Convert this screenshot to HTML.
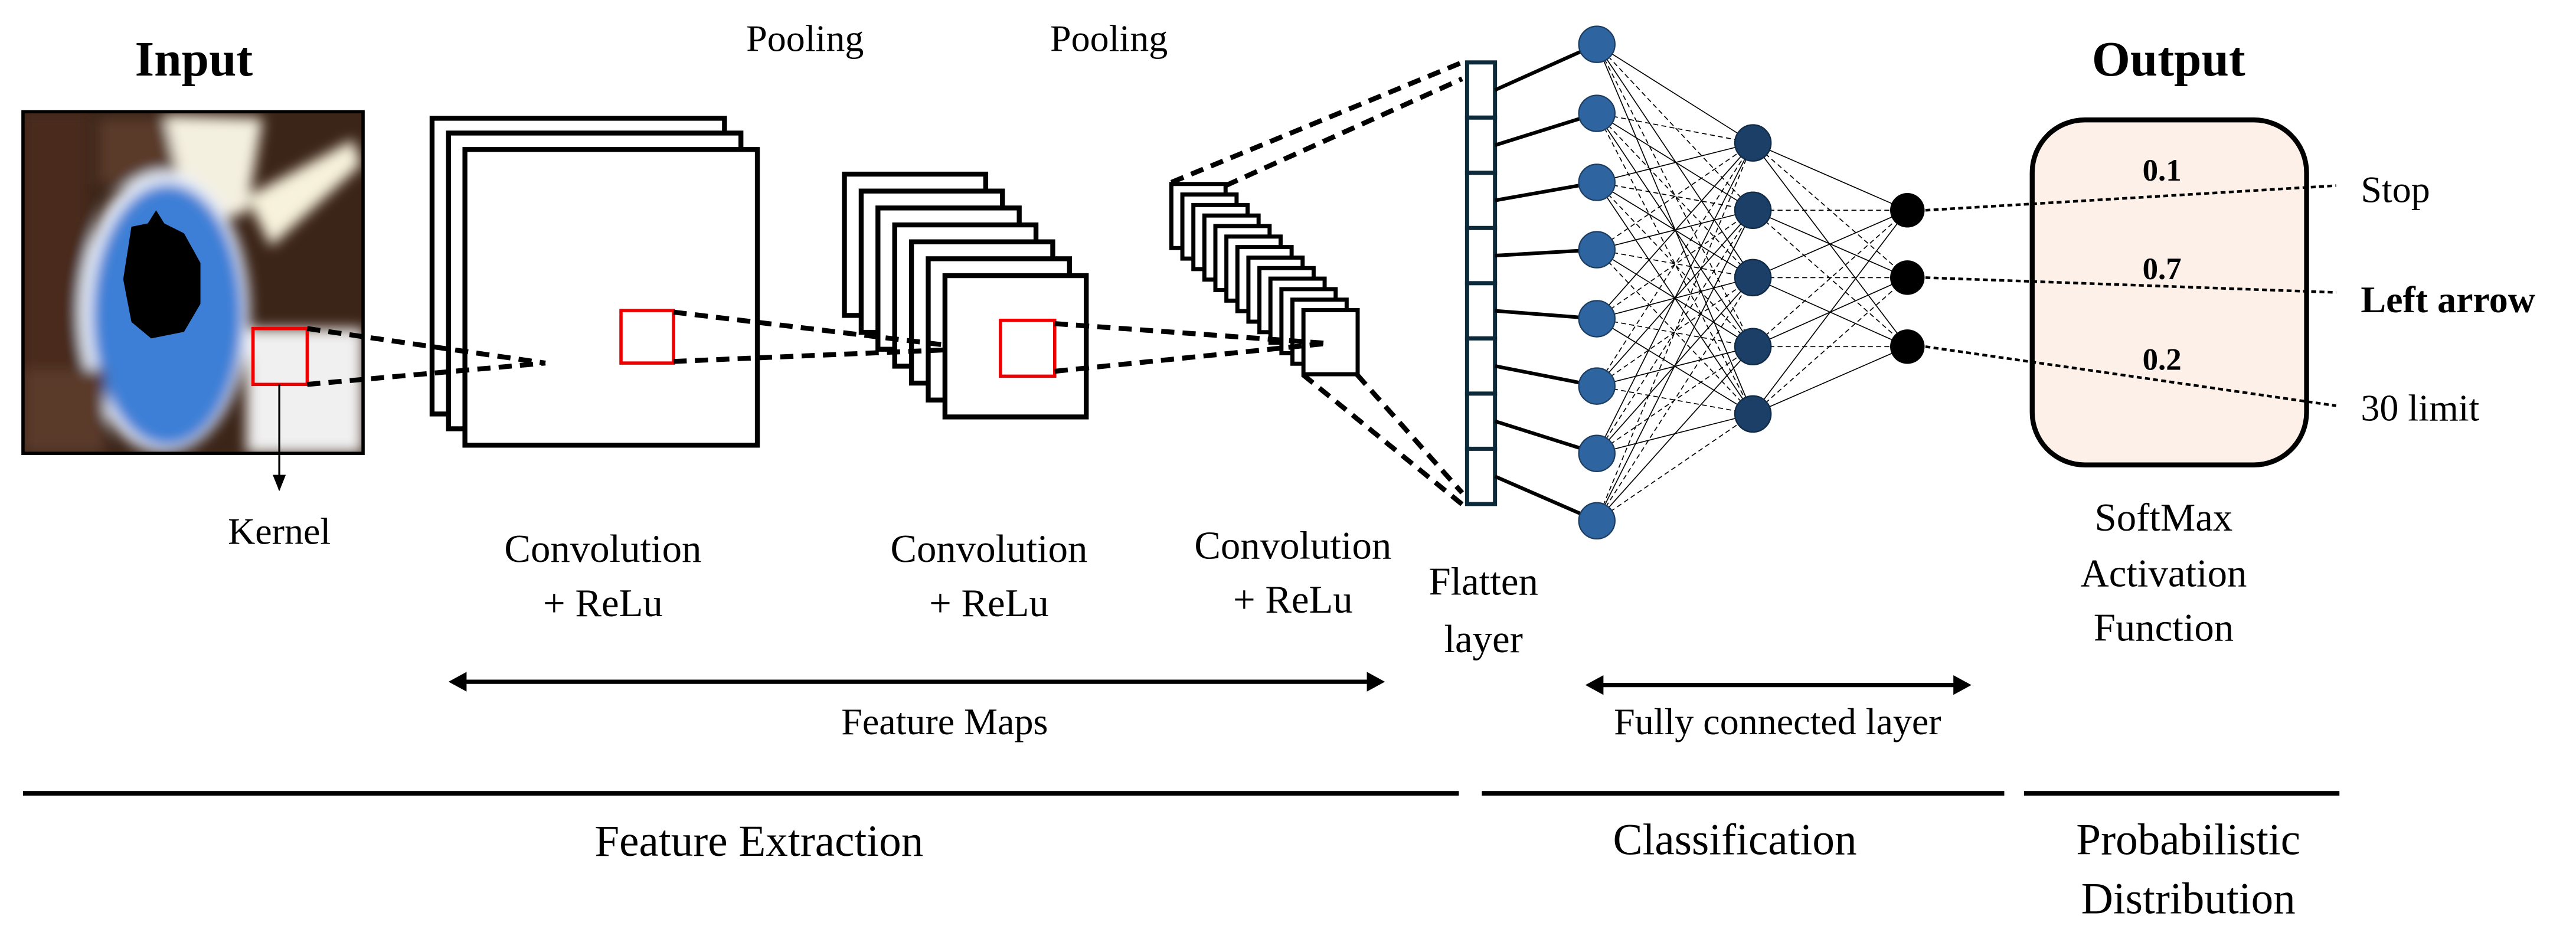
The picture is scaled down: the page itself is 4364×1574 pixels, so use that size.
<!DOCTYPE html>
<html><head><meta charset="utf-8"><style>
html,body{margin:0;padding:0;background:#fff;}
svg{display:block;}
text{font-family:"Liberation Serif","Times New Roman","DejaVu Serif",serif;fill:#000;}
</style></head><body>
<svg id="s" width="4364" height="1574" viewBox="0 0 1568 565.5" preserveAspectRatio="none" xmlns="http://www.w3.org/2000/svg" font-family="Liberation Serif, Times New Roman, DejaVu Serif, serif">
<defs>
<clipPath id="ic"><rect x="14" y="68" width="207" height="208"/></clipPath>
<filter id="bl" x="-20%" y="-20%" width="140%" height="140%"><feGaussianBlur stdDeviation="4"/></filter>
<marker id="ah" markerWidth="10" markerHeight="10" refX="9" refY="5" orient="auto" markerUnits="userSpaceOnUse"><path d="M0,1 L10,5 L0,9 Z" fill="#000"/></marker>
</defs>
<g clip-path="url(#ic)">
<rect x="14" y="68" width="207" height="208" fill="#3b2418"/>
<g filter="url(#bl)">
<rect x="14" y="68" width="40" height="208" fill="#4a2c1e"/>
<rect x="60" y="72" width="70" height="40" fill="#5a3a2a"/>
<path d="M100,70 L160,72 L150,130 L115,135 Z" fill="#f4f0e0"/>
<path d="M150,120 L215,85 L220,100 L165,150 Z" fill="#f7f2dc"/>
<ellipse cx="100" cy="190" rx="52" ry="86" fill="#e8eef8"/>
<ellipse cx="102" cy="192" rx="46" ry="80" fill="#3d7fd6"/>
<rect x="150" y="200" width="71" height="76" fill="#f0f0f0"/>
<rect x="14" y="225" width="50" height="51" fill="#5a3a2a"/>
</g>
<path d="M80,138 L90,136 L95,128 L100,136 L112,142 L122,160 L122,185 L112,202 L92,206 L80,196 L75,170 Z" fill="#000"/>
</g>
<rect x="14" y="68" width="207" height="208" fill="none" stroke="#000" stroke-width="2"/>
<rect x="154" y="200" width="33" height="34" fill="none" stroke="#e00" stroke-width="2"/>
<line x1="170" y1="234" x2="170" y2="298" stroke="#000" stroke-width="1.2" marker-end="url(#ah)"/>
<g id="dyn"></g>
<rect x="1237" y="73" width="167" height="210" rx="32" fill="#fdf0e8" stroke="#000" stroke-width="3"/>
<g id="dyn2"></g>
<text x="118" y="46" font-size="30" font-weight="bold" text-anchor="middle">Input</text>
<text x="1320" y="46" font-size="30" font-weight="bold" text-anchor="middle">Output</text>
<text x="490" y="31" font-size="23" text-anchor="middle">Pooling</text>
<text x="675" y="31" font-size="23" text-anchor="middle">Pooling</text>
<text x="170" y="331" font-size="23" text-anchor="middle">Kernel</text>
<text x="367" y="342" font-size="24" text-anchor="middle">Convolution</text>
<text x="367" y="375" font-size="24" text-anchor="middle">+ ReLu</text>
<text x="602" y="342" font-size="24" text-anchor="middle">Convolution</text>
<text x="602" y="375" font-size="24" text-anchor="middle">+ ReLu</text>
<text x="787" y="340" font-size="24" text-anchor="middle">Convolution</text>
<text x="787" y="373" font-size="24" text-anchor="middle">+ ReLu</text>
<text x="903" y="362" font-size="24" text-anchor="middle">Flatten</text>
<text x="903" y="397" font-size="24" text-anchor="middle">layer</text>
<text x="1317" y="323" font-size="24" text-anchor="middle">SoftMax</text>
<text x="1317" y="357" font-size="24" text-anchor="middle">Activation</text>
<text x="1317" y="390" font-size="24" text-anchor="middle">Function</text>
<text x="1316" y="110" font-size="19" font-weight="bold" text-anchor="middle">0.1</text>
<text x="1316" y="170" font-size="19" font-weight="bold" text-anchor="middle">0.7</text>
<text x="1316" y="225" font-size="19" font-weight="bold" text-anchor="middle">0.2</text>
<text x="1437" y="123" font-size="23">Stop</text>
<text x="1437" y="190" font-size="23" font-weight="bold">Left arrow</text>
<text x="1437" y="256" font-size="23">30 limit</text>
<text x="575" y="447" font-size="23" text-anchor="middle">Feature Maps</text>
<text x="1082" y="447" font-size="23" text-anchor="middle">Fully connected layer</text>
<text x="462" y="521" font-size="27" text-anchor="middle">Feature Extraction</text>
<text x="1056" y="520" font-size="27" text-anchor="middle">Classification</text>
<text x="1332" y="520" font-size="27" text-anchor="middle">Probabilistic</text>
<text x="1332" y="556" font-size="27" text-anchor="middle">Distribution</text>
</svg>
<script>
var NS="http://www.w3.org/2000/svg",g=document.getElementById("dyn"),g2=document.getElementById("dyn2");
function el(p,t,a){var e=document.createElementNS(NS,t);for(var k in a)e.setAttribute(k,a[k]);p.appendChild(e);return e;}
function L(p,x1,y1,x2,y2,w,c,d){var a={x1:x1,y1:y1,x2:x2,y2:y2,stroke:c||"#000","stroke-width":w};if(d)a["stroke-dasharray"]=d;return el(p,"line",a);}
[[263,72],[273,81],[283,91]].forEach(function(p){el(g,"rect",{x:p[0],y:p[1],width:178,height:180,fill:"#fff",stroke:"#000","stroke-width":3});});
L(g,187,200,332,221,3,"#000","8,5");L(g,187,234,332,221,3,"#000","8,5");
el(g,"rect",{x:378,y:189,width:32,height:32,fill:"none",stroke:"#e00","stroke-width":2});
for(var i=0;i<7;i++){el(g,"rect",{x:514+i*10.2,y:106+i*10.3,width:86,height:86,fill:"#fff",stroke:"#000","stroke-width":3});}
L(g,410,190,575,210,3,"#000","8,5");L(g,410,220,575,213,3,"#000","8,5");
el(g,"rect",{x:609,y:195,width:33,height:34,fill:"none",stroke:"#e00","stroke-width":2});
for(var i=0;i<13;i++){el(g,"rect",{x:713+i*6.7,y:112+i*6.4,width:33,height:39,fill:"#fff",stroke:"#000","stroke-width":2.5});}
L(g,642,197,808,209,3,"#000","8,5");L(g,642,226,808,209,3,"#000","8,5");
L(g,713,111,890,38,3,"#000","8,5");L(g,746,113,890,48,3,"#000","8,5");
L(g,793,228,890,307,3,"#000","8,5");L(g,826,228,890,300,3,"#000","8,5");
for(var i=0;i<8;i++){el(g,"rect",{x:893,y:38+i*33.6,width:17,height:33.6,fill:"#fff",stroke:"#0d2a3a","stroke-width":2.5});}
var l1=[27,69,111,152,194,235,276,317],l2=[87,128,169,211,252],l3=[128,169,211];
for(var i=0;i<8;i++)L(g,910,38+33.6*(i+.5),972,l1[i],2.2);
for(var i=0;i<8;i++)for(var j=0;j<5;j++)L(g,972,l1[i],1067,l2[j],0.6,"#000",(i+j)%2?"3,2":null);
for(var j=0;j<5;j++)for(var k=0;k<3;k++)L(g,1067,l2[j],1161,l3[k],0.6,"#000",(j+k)%2?"3,2":null);
l1.forEach(function(y){el(g,"circle",{cx:972,cy:y,r:11,fill:"#2e65a0",stroke:"#1c3c60","stroke-width":0.8});});
l2.forEach(function(y){el(g,"circle",{cx:1067,cy:y,r:11,fill:"#1b3f66",stroke:"#102a45","stroke-width":0.8});});
l3.forEach(function(y){el(g,"circle",{cx:1161,cy:y,r:10.5,fill:"#000"});});
L(g2,1172,128,1422,113,1.6,"#000","3,2");L(g2,1172,169,1422,178,1.6,"#000","3,2");L(g2,1172,211,1422,247,1.6,"#000","3,2");
function DA(x1,x2,y){L(g2,x1+8,y,x2-8,y,2.6);el(g2,"path",{d:"M"+x1+","+y+" l11,-6 l0,12 Z",fill:"#000"});el(g2,"path",{d:"M"+x2+","+y+" l-11,-6 l0,12 Z",fill:"#000"});}
DA(273,843,415);DA(965,1200,417);
[[14,888],[902,1220],[1232,1424]].forEach(function(s){el(g2,"rect",{x:s[0],y:481.5,width:s[1]-s[0],height:2.8,fill:"#000"});});
</script>
</body></html>
